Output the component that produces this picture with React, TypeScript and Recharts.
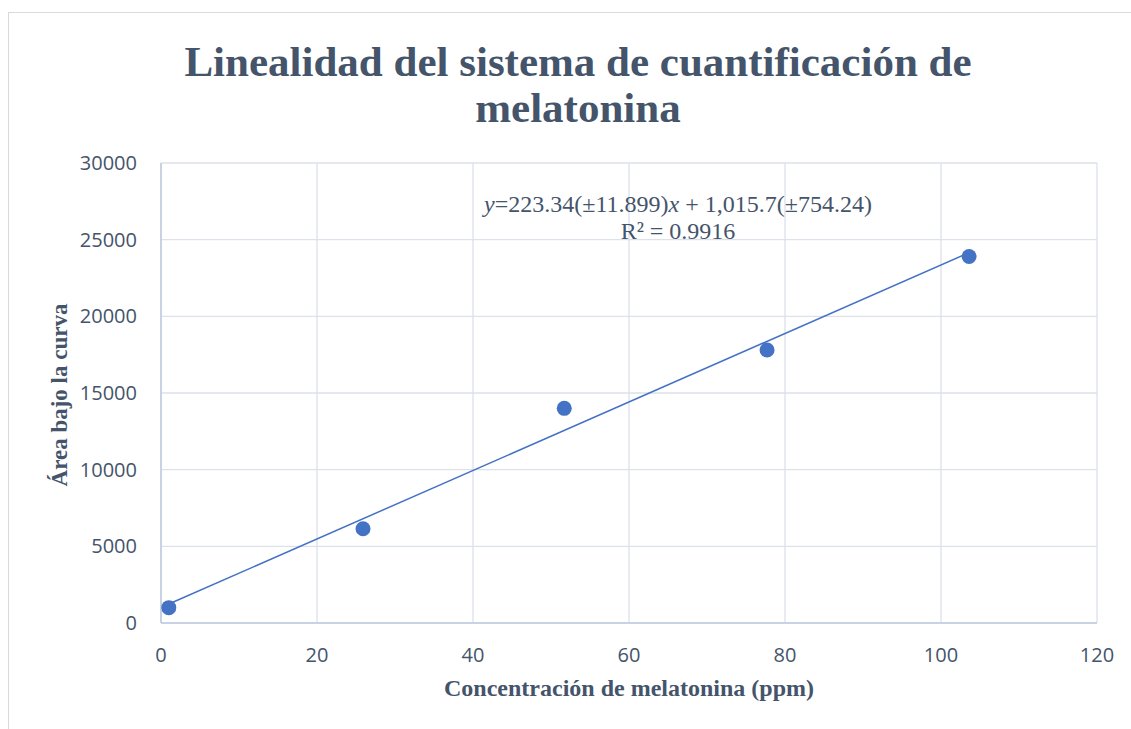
import { ComposedChart, Scatter, XAxis, YAxis, CartesianGrid, ReferenceLine, Label } from "recharts"

// concentración (ppm) y área bajo la curva
const concentrations = [1.0, 25.9, 51.7, 77.7, 103.6]
const areas = [1000, 6150, 14000, 17800, 23900]

const xTicks = [0, 20, 40, 60, 80, 100, 120]
const yTicks = [0, 5000, 10000, 15000, 20000, 25000, 30000]

// coeficientes de la recta de ajuste mostrada en el gráfico
const slope = 223.34
const intercept = 1015.7

const TEXT = "#44546A"
const BLUE = "#4472C4"
const SERIF = "'Liberation Serif', 'Times New Roman', serif"
const SANS = "'Open Sans', 'Noto Sans', sans-serif"

const points = concentrations.map((x, i) => ({ x, y: areas[i] }))
const xMin = Math.min(...concentrations)
const xMax = Math.max(...concentrations)
const trend = [
  { x: xMin, y: slope * xMin + intercept },
  { x: xMax, y: slope * xMax + intercept },
]

const YTitle = (props: any) => {
  const vb = props.viewBox || { x: 61, y: 163, width: 100, height: 460 }
  const cx = vb.x - 2
  const cy = vb.y + vb.height / 2 + 2
  return (
    <text
      x={cx}
      y={cy}
      transform={`rotate(-90 ${cx} ${cy})`}
      textAnchor="middle"
      dominantBaseline="central"
      fill={TEXT}
      fontFamily={SERIF}
      fontWeight="bold"
      fontSize={23}
    >
      Área bajo la curva
    </text>
  )
}

const Dot = (props: any) => <circle cx={props.cx} cy={props.cy} r={7.5} fill={BLUE} />

export default function App() {
  return (
    <div style={{ position: "absolute", left: 0, top: 0, width: 1131, height: 729, overflow: "hidden", background: "#fff" }}>
      <div style={{ position: "absolute", left: 8, top: 12, width: 1200, height: 800, border: "1px solid #D9D9D9" }} />

      <div
        style={{
          position: "absolute",
          left: 0,
          top: 39,
          width: 1156,
          textAlign: "center",
          fontFamily: SERIF,
          fontWeight: "bold",
          fontSize: 43,
          lineHeight: "46px",
          color: TEXT,
        }}
      >
        Linealidad del sistema de cuantificación de
        <br />
        melatonina
      </div>

      <div style={{ position: "absolute", left: 0, top: 0 }}>
        <ComposedChart width={1131} height={729} margin={{ top: 163, right: 34, bottom: 47, left: 61 }}>
          <CartesianGrid stroke="#DCE1EA" strokeWidth={1.3} />
          <XAxis
            type="number"
            dataKey="x"
            domain={[0, 120]}
            ticks={xTicks}
            height={59}
            axisLine={{ stroke: "#C9D2E3", strokeWidth: 2 }}
            tickLine={false}
            tickSize={0}
            tickMargin={25}
            tick={{ fill: TEXT, fontFamily: SANS, fontSize: 20 }}
          >
            <Label
              value="Concentración de melatonina (ppm)"
              position="bottom"
              offset={-3}
              fill={TEXT}
              fontFamily={SERIF}
              fontWeight="bold"
              fontSize={24}
            />
          </XAxis>
          <YAxis
            type="number"
            dataKey="y"
            domain={[0, 30000]}
            ticks={yTicks}
            width={100}
            axisLine={{ stroke: "#C9D2E3", strokeWidth: 2 }}
            tickLine={false}
            tickSize={0}
            tickMargin={24}
            tick={{ fill: TEXT, fontFamily: SANS, fontSize: 20 }}
          >
            <Label content={YTitle} />
          </YAxis>
          <ReferenceLine segment={trend} stroke={BLUE} strokeWidth={1.5} ifOverflow="visible" />
          <Scatter data={points} shape={Dot} isAnimationActive={false} />
        </ComposedChart>
      </div>

      <div
        style={{
          position: "absolute",
          left: 428,
          top: 191,
          width: 500,
          textAlign: "center",
          fontFamily: SERIF,
          fontSize: 24,
          lineHeight: "27px",
          color: TEXT,
          whiteSpace: "nowrap",
        }}
      >
        <i>y</i>=223.34(±11.899)<i>x</i> + 1,015.7(±754.24)
        <br />
        R² = 0.9916
      </div>
    </div>
  )
}
